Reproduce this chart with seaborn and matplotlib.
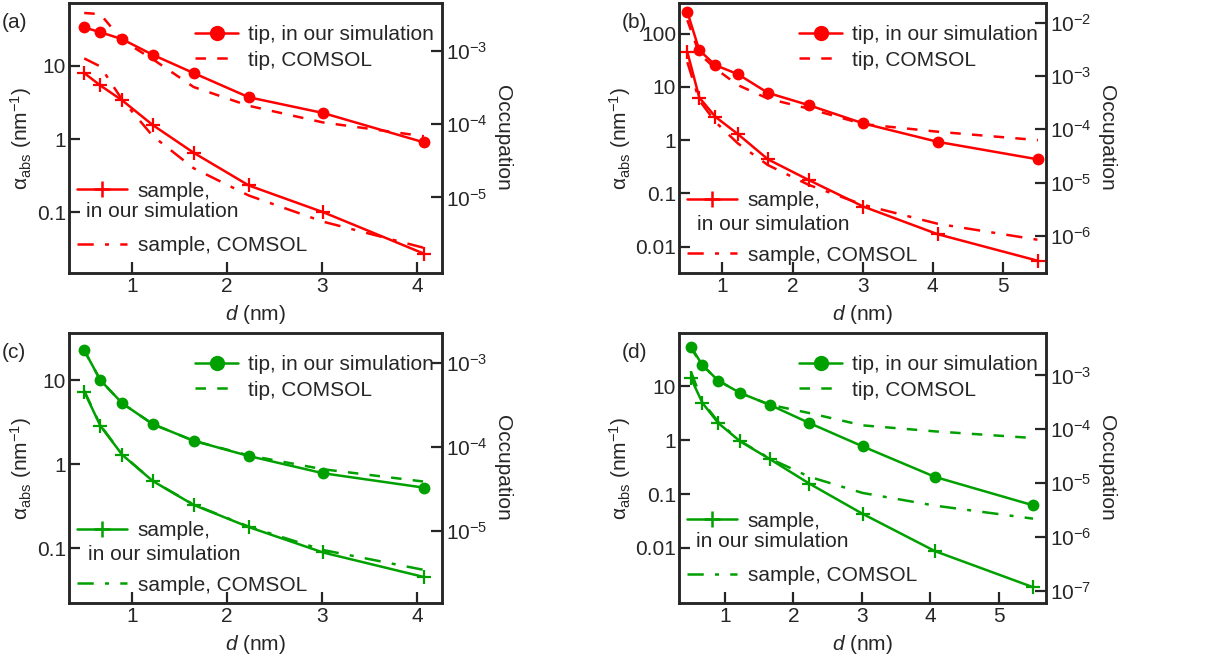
import numpy as np
import matplotlib
matplotlib.use("Agg")
import matplotlib.pyplot as plt
from matplotlib.lines import Line2D
from matplotlib.ticker import FixedLocator, NullLocator, FixedFormatter
import seaborn as sns

sns.set_style("ticks")
plt.rcParams["font.family"] = ["Liberation Sans", "DejaVu Sans"]
plt.rcParams["mathtext.fontset"] = "custom"
plt.rcParams["mathtext.rm"] = "Liberation Sans"
plt.rcParams["mathtext.it"] = "Liberation Sans:italic"
plt.rcParams["mathtext.bf"] = "Liberation Sans:bold"

# ---------------- data ----------------
d_short = [0.5, 0.67, 0.9, 1.22, 1.65, 2.23, 3.01, 4.07]
d_long = [0.5, 0.67, 0.9, 1.22, 1.65, 2.23, 3.01, 4.07, 5.5]

tip_sim_a = [33, 28.4, 22.8, 14, 7.9, 3.7, 2.26, 0.90]
tip_com_a = [52, 50, 22, 12.2, 5.1, 2.83, 1.68, 1.09]
sample_sim_a = [7.9, 5.35, 3.35, 1.55, 0.65, 0.233, 0.101, 0.0275]
sample_com_a = [12.5, 9.7, 3.4, 1.1, 0.40, 0.17, 0.075, 0.033]

tip_sim_b = [254, 48.6, 25.5, 17.3, 7.7, 4.54, 2.06, 0.93, 0.436]
tip_com_b = [178, 42, 22, 10.8, 6.0, 3.9, 2.0, 1.44, 1.0]
sample_sim_b = [45, 6.3, 2.74, 1.30, 0.436, 0.179, 0.0567, 0.0172, 0.00545]
sample_com_b = [29, 5.6, 2.2, 0.87, 0.34, 0.145, 0.061, 0.027, 0.0135]

tip_sim_c = [22.7, 10, 5.3, 3.0, 1.9, 1.25, 0.78, 0.525]
tip_com_c = [22.7, 10, 5.3, 3.0, 1.9, 1.27, 0.87, 0.62]
sample_sim_c = [7.3, 2.86, 1.29, 0.63, 0.327, 0.178, 0.0887, 0.0453]
sample_com_c = [7.5, 2.9, 1.3, 0.63, 0.33, 0.18, 0.095, 0.055]

tip_sim_d = [55, 24.6, 12.8, 7.55, 4.57, 2.09, 0.77, 0.208, 0.062]
tip_com_d = [51.5, 24.6, 12.8, 7.55, 4.57, 3.2, 1.89, 1.46, 1.1]
sample_sim_d = [14.3, 4.92, 2.09, 0.955, 0.45, 0.157, 0.043, 0.0087, 0.00187]
sample_com_d = [19, 5.2, 2.2, 0.97, 0.46, 0.21, 0.105, 0.061, 0.035]

# conversion alpha_abs -> occupation (right axis)
occ_factor = 6.25e-5

panel_labels = ["(a)", "(b)", "(c)", "(d)"]
left_ticks = {
    "a": [0.1, 1, 10],
    "b": [0.01, 0.1, 1, 10, 100],
    "c": [0.1, 1, 10],
    "d": [0.01, 0.1, 1, 10],
}
left_ticklabels = {
    "a": ["0.1", "1", "10"],
    "b": ["0.01", "0.1", "1", "10", "100"],
    "c": ["0.1", "1", "10"],
    "d": ["0.01", "0.1", "1", "10"],
}
right_exps = {
    "a": [-3, -4, -5],
    "b": [-2, -3, -4, -5, -6],
    "c": [-3, -4, -5],
    "d": [-3, -4, -5, -6, -7],
}
x_ticks = {"a": [1, 2, 3, 4], "b": [1, 2, 3, 4, 5], "c": [1, 2, 3, 4], "d": [1, 2, 3, 4, 5]}
xlims = {"a": (0.34, 4.26), "b": (0.381, 5.614), "c": (0.34, 4.26), "d": (0.327, 5.69)}
ylims = {"a": (0.015, 71), "b": (0.00322, 374), "c": (0.0222, 36.5), "d": (0.00095, 98)}

RED = "#ff0000"
GREEN = "#00a000"
FS = 15
LW = 1.8
DASH = (0, (4.2, 4.5))
DASHDOT = (0, (6.5, 4.5, 1.6, 4.5))

W, H = 1209, 660
fig = plt.figure(figsize=(W / 100, H / 100), dpi=100)

boxes = {
    "a": (69, 3, 442, 273),
    "b": (679, 3, 1046, 273),
    "c": (69, 333, 442, 603),
    "d": (679, 333, 1046, 603),
}

panels = {
    "a": (d_short, tip_sim_a, tip_com_a, sample_sim_a, sample_com_a, RED),
    "b": (d_long, tip_sim_b, tip_com_b, sample_sim_b, sample_com_b, RED),
    "c": (d_short, tip_sim_c, tip_com_c, sample_sim_c, sample_com_c, GREEN),
    "d": (d_long, tip_sim_d, tip_com_d, sample_sim_d, sample_com_d, GREEN),
}

# sample-legend vertical tweaks (axes fraction) per panel
sample_leg_y = {"a": 0.035, "b": 0.0, "c": 0.0, "d": 0.035}
mid_text_y = {"a": 0.226, "b": 0.178, "c": 0.178, "d": 0.226}
mid_text_x = {"a": 0.046, "b": 0.049, "c": 0.051, "d": 0.046}

for key, lab in zip(["a", "b", "c", "d"], panel_labels):
    l, t, r, b = boxes[key]
    ax = fig.add_axes([l / W, 1 - b / H, (r - l) / W, (b - t) / H])
    x, ts, tc, ss, sc, col = panels[key]

    sns.lineplot(x=x, y=tc, ax=ax, color=col, lw=LW, linestyle=DASH)
    sns.lineplot(x=x, y=sc, ax=ax, color=col, lw=LW, linestyle=DASHDOT)
    sns.lineplot(x=x, y=ts, ax=ax, color=col, lw=LW, marker="o", markersize=8.5,
                 markeredgewidth=0, markeredgecolor=col)
    sns.lineplot(x=x, y=ss, ax=ax, color=col, lw=LW, marker="+", markersize=10,
                 markeredgewidth=1.6, markeredgecolor=col)

    ax.set_yscale("log")
    ax.set_xlim(*xlims[key])
    ax.set_ylim(*ylims[key])
    ax.yaxis.set_major_locator(FixedLocator(left_ticks[key]))
    ax.yaxis.set_major_formatter(FixedFormatter(left_ticklabels[key]))
    ax.yaxis.set_minor_locator(NullLocator())
    ax.set_xticks(x_ticks[key])
    ax.set_xticklabels([str(v) for v in x_ticks[key]])
    ax.tick_params(direction="in", length=8, width=1.6, labelsize=FS, pad=3)
    ax.tick_params(axis="y", pad=2)
    for s in ax.spines.values():
        s.set_linewidth(1.8)
    ax.set_xlabel(r"$d$ (nm)", fontsize=FS, labelpad=5)
    ax.set_ylabel(r"α$_{\mathrm{abs}}$ (nm$^{-1}$)", fontsize=FS, labelpad=2)

    ax2 = ax.twinx()
    ax2.set_yscale("log")
    lo, hi = ylims[key]
    ax2.set_ylim(lo * occ_factor, hi * occ_factor)
    ax2.yaxis.set_major_locator(FixedLocator([10.0 ** e for e in right_exps[key]]))
    ax2.yaxis.set_major_formatter(FixedFormatter([r"10$^{\mathrm{%d}}$" % e for e in right_exps[key]]))
    ax2.yaxis.set_minor_locator(NullLocator())
    ax2.tick_params(direction="in", length=8, width=1.6, labelsize=FS, pad=3)
    for s in ax2.spines.values():
        s.set_linewidth(1.8)
    ax2.set_ylabel("Occupation", fontsize=FS, rotation=270, va="bottom", labelpad=4)

    # legends
    h_ts = Line2D([], [], color=col, lw=LW, marker="o", markersize=11, markeredgewidth=0)
    h_tc = Line2D([], [], color=col, lw=LW, linestyle=DASH)
    leg1 = ax.legend([h_ts, h_tc], ["tip, in our simulation", "tip, COMSOL"],
                     loc="upper right", bbox_to_anchor=(1.0, 0.948), frameon=False,
                     fontsize=FS, handlelength=2.1, handletextpad=0.45,
                     labelspacing=0.3, borderaxespad=0.2, borderpad=0.2)
    ax.add_artist(leg1)
    h_ss = Line2D([], [], color=col, lw=LW, marker="+", markersize=12, markeredgewidth=1.8)
    h_blank = Line2D([], [], color="none", lw=0)
    h_sc = Line2D([], [], color=col, lw=LW, linestyle=DASHDOT)
    ax.legend([h_ss, h_blank, h_sc], ["sample,", " ", "sample, COMSOL"],
              loc="lower left", bbox_to_anchor=(0.0, sample_leg_y[key]), frameon=False,
              fontsize=FS, handlelength=2.4, handletextpad=0.5,
              labelspacing=0.4, borderaxespad=0.2, borderpad=0.2)
    ax.text(mid_text_x[key], mid_text_y[key], "in our simulation", transform=ax.transAxes,
            fontsize=FS, va="center", ha="left")

    ax.set_zorder(ax2.get_zorder() + 1)
    ax.patch.set_visible(False)

    fig.text((l - 69 + 2) / W if key in ("a", "c") else (622) / W, 1 - (t + 19) / H, lab,
             fontsize=FS, va="center", ha="left")

fig.savefig("out.png", dpi=100)
